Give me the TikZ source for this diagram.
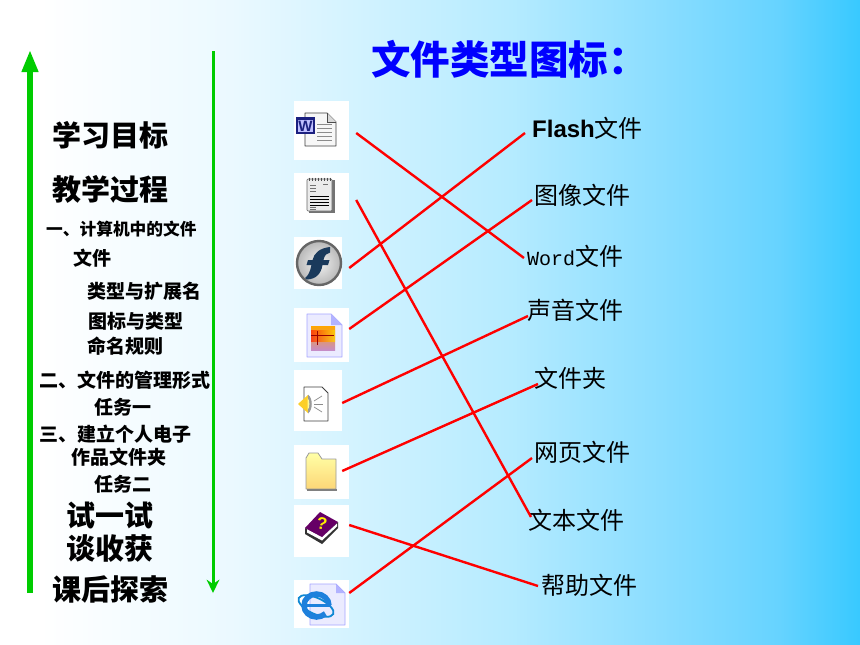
\documentclass[tikz,border=0pt]{standalone}
\usepackage{fontspec}
\setmainfont{Liberation Sans}
\newfontfamily\cjk{Noto Sans CJK SC}
\newfontfamily\wordmono{Liberation Mono}
\definecolor{bga}{HTML}{FFFFFF}
\definecolor{bgb}{HTML}{EBF9FF}
\definecolor{bgc}{HTML}{B5EBFF}
\definecolor{bgd}{HTML}{8ADDFF}
\definecolor{bge}{HTML}{66D3FF}
\definecolor{bgf}{HTML}{38C9FF}
\definecolor{arrowgreen}{HTML}{00CC00}
\definecolor{titleblue}{HTML}{0000FF}
\definecolor{linkred}{HTML}{FF0000}
\definecolor{navy}{HTML}{1C2080}
\definecolor{flashnavy}{HTML}{1A3A5C}
\definecolor{folderyel}{HTML}{FCE68C}
\definecolor{ieblue}{HTML}{1E80DC}
\pgfdeclarehorizontalshading{bgfade}{100bp}{color(0bp)=(bga); color(27.3bp)=(bga); color(38.4bp)=(bgb); color(54.7bp)=(bgc); color(63.4bp)=(bgd); color(70.3bp)=(bge); color(75bp)=(bgf); color(100bp)=(bgf)}
\tikzset{
  menutext/.style={anchor=west,inner sep=0pt,text=black,text depth=0pt},
  bigmenu/.style={menutext,text height=22pt,font=\fontsize{29}{29}\selectfont\cjk\bfseries},
  smallmenu/.style={menutext,text height=14.4pt,font=\fontsize{19}{19}\selectfont\cjk\bfseries},
  tinymenu/.style={menutext,text height=12.7pt,font=\fontsize{16.7}{17}\selectfont\cjk\bfseries},
  typelabel/.style={anchor=west,inner sep=0pt,text=black,font=\fontsize{24}{24}\selectfont\cjk,text height=18.2pt,text depth=0pt},
  tile/.style={fill=white,draw=none,inner sep=0pt,minimum width=#1},
  tile/.default=55pt,
  link/.style={draw=linkred,line width=2.4pt},
  pageface/.style={fill=#1,draw=black!75,line width=.8pt,line join=round},
  txtline/.style={draw=black!45,line width=.6pt},
}
\begin{document}
\begin{tikzpicture}[x=1pt,y=-1pt]
\useasboundingbox (0,0) rectangle (860,645);
\shade[shading=bgfade] (0,0) rectangle (860,645);

% side arrows
\coordinate (upfoot) at (30,593);
\coordinate (upshaft) at (30,72);
\draw[arrowgreen,line width=6pt] (upfoot) -- (upshaft);
\fill[arrowgreen] (30,51) -- (38.7,72) -- (21.3,72) -- cycle;
\coordinate (downtop) at (213,51);
\coordinate (downfoot) at (213,586);
\draw[arrowgreen,line width=3pt] (downtop) -- (downfoot);
\fill[arrowgreen] (213,593) -- (206.5,579.5) -- (213,584) -- (219.5,579.5) -- cycle;

% title
\node[anchor=west,inner sep=0pt,text=titleblue,font=\fontsize{39.5}{40}\selectfont\cjk\bfseries,text height=30pt,text depth=0pt] (title) at (371,59) {文件类型图标：};

% left menu
\node[bigmenu] (m1) at (52,135) {学习目标};
\node[bigmenu] (m2) at (52,189) {教学过程};
\node[tinymenu] (m3) at (46,229) {一、计算机中的文件};
\node[smallmenu] (m4) at (73,258) {文件};
\node[smallmenu] (m5) at (87,291) {类型与扩展名};
\node[smallmenu] (m6) at (88,321) {图标与类型};
\node[smallmenu] (m7) at (87,346) {命名规则};
\node[smallmenu] (m8) at (39,380) {二、文件的管理形式};
\node[smallmenu] (m9) at (94,407) {任务一};
\node[smallmenu] (m10) at (39,434) {三、建立个人电子};
\node[smallmenu] (m11) at (71,457) {作品文件夹};
\node[smallmenu] (m12) at (94,484) {任务二};
\node[bigmenu] (m13) at (66,515) {试一试};
\node[bigmenu] (m14) at (66,548) {谈收获};
\node[bigmenu] (m15) at (52,589) {课后探索};

% icon tiles
\node[tile,minimum height=59pt] (tWord) at (321.5,130.5) {};
\node[tile,minimum height=47pt] (tNote) at (321.5,196.5) {};
\node[tile=48pt,minimum height=52pt] (tFlash) at (318,263) {};
\node[tile,minimum height=54pt] (tImage) at (321.5,335) {};
\node[tile=48pt,minimum height=61pt] (tSound) at (318,400.5) {};
\node[tile,minimum height=54pt] (tFolder) at (321.5,472) {};
\node[tile,minimum height=52pt] (tHelp) at (321.5,531) {};
\node[tile,minimum height=48pt] (tIE) at (321.5,604) {};

% word icon
\draw[pageface=black!3] (305,113) -- (327,113) -- (336,122) -- (336,146) -- (305,146) -- cycle;
\draw[black!70,line width=.6pt,fill=black!15] (327,113) -- (327,122) -- (336,122);
\foreach \yy in {124,128,132,136,140}{\draw[txtline] (317,\yy) -- (332,\yy);}
\fill[navy] (296,117) rectangle (315,134);
\fill[white!75!blue] (298,119.5) rectangle (313,132);
\node[inner sep=0pt,text=navy,font=\fontsize{15}{15}\selectfont\bfseries] (wordW) at (305.5,126) {W};

% notepad icon
\fill[black!55] (309,180) rectangle (335,213);
\draw[fill=black!8,draw=black!60,line width=.6pt,rounded corners=1pt] (307,179) rectangle (332,211);
\foreach \xx in {309,312,...,330}{\draw[black!70,line width=.8pt] (\xx,177.5) -- (\xx,181);}
\foreach \yy in {196,199,202,205}{\draw[black,line width=.9pt] (310,\yy) -- (329,\yy);}
\foreach \yy in {185,188,191,207,209.5}{\draw[black!55,line width=.9pt] (310,\yy) -- (316,\yy);}
\draw[black!55,line width=.8pt] (323,184.5) -- (328,184.5);

% flash icon
\shade[inner color=black!5,outer color=black!28,draw=black!60,line width=2.4pt] (319,263) circle (22);
\fill[flashnavy] (330,247) .. controls (320,248) and (314,253) .. (312.5,260) -- (308,260) -- (306.5,265) -- (311.5,265) .. controls (310,272) and (308,276) .. (305,278) -- (307,279.5) .. controls (316,279) and (321,274) .. (322.5,265) -- (328,265) -- (329.5,260) -- (323.5,260) .. controls (324.5,255) and (327,253) .. (330,252.5) -- cycle;

% image icon
\draw[fill=blue!8,draw=blue!35,line width=.9pt,line join=round] (307,314) -- (331,314) -- (342,325) -- (342,357) -- (307,357) -- cycle;
\fill[blue!30] (331,314) -- (331,325) -- (342,325) -- cycle;
\shade[top color=orange!70!yellow,bottom color=violet!45!white] (311,326) rectangle (335,350);
\shade[left color=red!70!orange,right color=yellow!70!orange,opacity=.75] (311,330) rectangle (335,341);
\draw[red!60!black,line width=1pt] (311,335) -- (334,335);
\draw[red!60!black,line width=1pt] (317,331) -- (317,345);

% sound icon
\draw[pageface=white] (304,387) -- (322,387) -- (328,393) -- (328,421) -- (304,421) -- cycle;
\draw[black!45,line width=.7pt] (314,401) -- (322,396);
\draw[black!45,line width=.7pt] (314,404) -- (323,404);
\draw[black!45,line width=.7pt] (314,407) -- (322,412);
\fill[yellow!60!orange!85!white] (298,404) -- (308,395) -- (308,413) -- cycle;
\fill[black!40] (308,394.5) .. controls (313,398) and (313,410) .. (308,413.5) -- cycle;
\fill[white!60!yellow] (307.5,398) .. controls (310,400) and (310,408) .. (307.5,410) -- cycle;

% folder icon
\shade[top color=yellow!35!white,bottom color=folderyel!85!orange] (306,458) -- (309,453) -- (318,453) -- (322,459) -- (336,459) -- (336,489) -- (306,489) -- cycle;
\draw[draw=black!40,line width=.8pt,line join=round] (306,458) -- (309,453) -- (318,453) -- (322,459) -- (336,459) -- (336,489) -- (306,489) -- cycle;
\draw[black!50,line width=1.2pt] (306.5,490) -- (336.5,490);

% help book icon
\fill[black!80] (305,528) -- (322,537) -- (338,522) -- (338,528) -- (322,544) -- (305,534) -- cycle;
\fill[white] (307,529) -- (322,537) -- (337,523.5) -- (337,526.5) -- (322,540.5) -- (307,532.5) -- cycle;
\fill[violet!80!black] (320,512) -- (338,522) -- (322,537) -- (305,528) -- cycle;
\node[inner sep=0pt,text=yellow,rotate=-10,font=\fontsize{17}{17}\selectfont\bfseries] (helpq) at (322,524) {?};

% web icon
\draw[fill=blue!8,draw=blue!35,line width=.9pt,line join=round] (310,584) -- (336,584) -- (345,593) -- (345,625) -- (310,625) -- cycle;
\fill[blue!30] (336,584) -- (336,593) -- (345,593) -- cycle;
\draw[cyan!70!blue,line width=1.8pt,rotate around={-25:(316,606)}] (316,606) ellipse (19 and 8);
\draw[ieblue,line width=5.5pt] (329,605.5) arc[start angle=0,end angle=-315,x radius=12.5,y radius=11.5];
\draw[ieblue,line width=3.5pt] (304,605.5) -- (331,605.5);

% type labels
\node[anchor=west,inner sep=0pt,text=black,font=\fontsize{24}{24}\selectfont\bfseries,text height=18.2pt,text depth=0pt] (lFlash) at (532,128) {Flash{\mdseries\cjk 文件}};
\node[typelabel] (lImage) at (534,195) {图像文件};
\node[typelabel] (lWord) at (527,256) {{\fontsize{20}{20}\selectfont\wordmono Word}文件};
\node[typelabel] (lSound) at (527,310) {声音文件};
\node[typelabel] (lFolder) at (534,378) {文件夹};
\node[typelabel] (lWeb) at (534,452) {网页文件};
\node[typelabel] (lText) at (528,520) {文本文件};
\node[typelabel] (lHelp) at (541,585) {帮助文件};

% connectors
\draw[link] ([xshift=7pt,yshift=-2.5pt]tWord.east) -- ([xshift=-3pt,yshift=-2pt]lWord.west);
\draw[link] ([xshift=7pt,yshift=-3.5pt]tNote.east) -- ([xshift=3pt,yshift=3pt]lText.west);
\draw[link] ([xshift=7pt,yshift=-5pt]tFlash.east) -- ([xshift=-7pt,yshift=-5pt]lFlash.west);
\draw[link] ([yshift=6pt]tImage.east) -- ([xshift=-2pt,yshift=-5pt]lImage.west);
\draw[link] ([yshift=-2.5pt]tSound.east) -- ([xshift=1pt,yshift=-6pt]lSound.west);
\draw[link] ([xshift=-7pt,yshift=1pt]tFolder.east) -- ([xshift=4pt,yshift=-6pt]lFolder.west);
\draw[link] ([yshift=6pt]tHelp.east) -- ([xshift=-3pt,yshift=-1pt]lHelp.west);
\draw[link] ([yshift=11pt]tIE.east) -- ([xshift=-2pt,yshift=-6pt]lWeb.west);
\end{tikzpicture}
\end{document}
